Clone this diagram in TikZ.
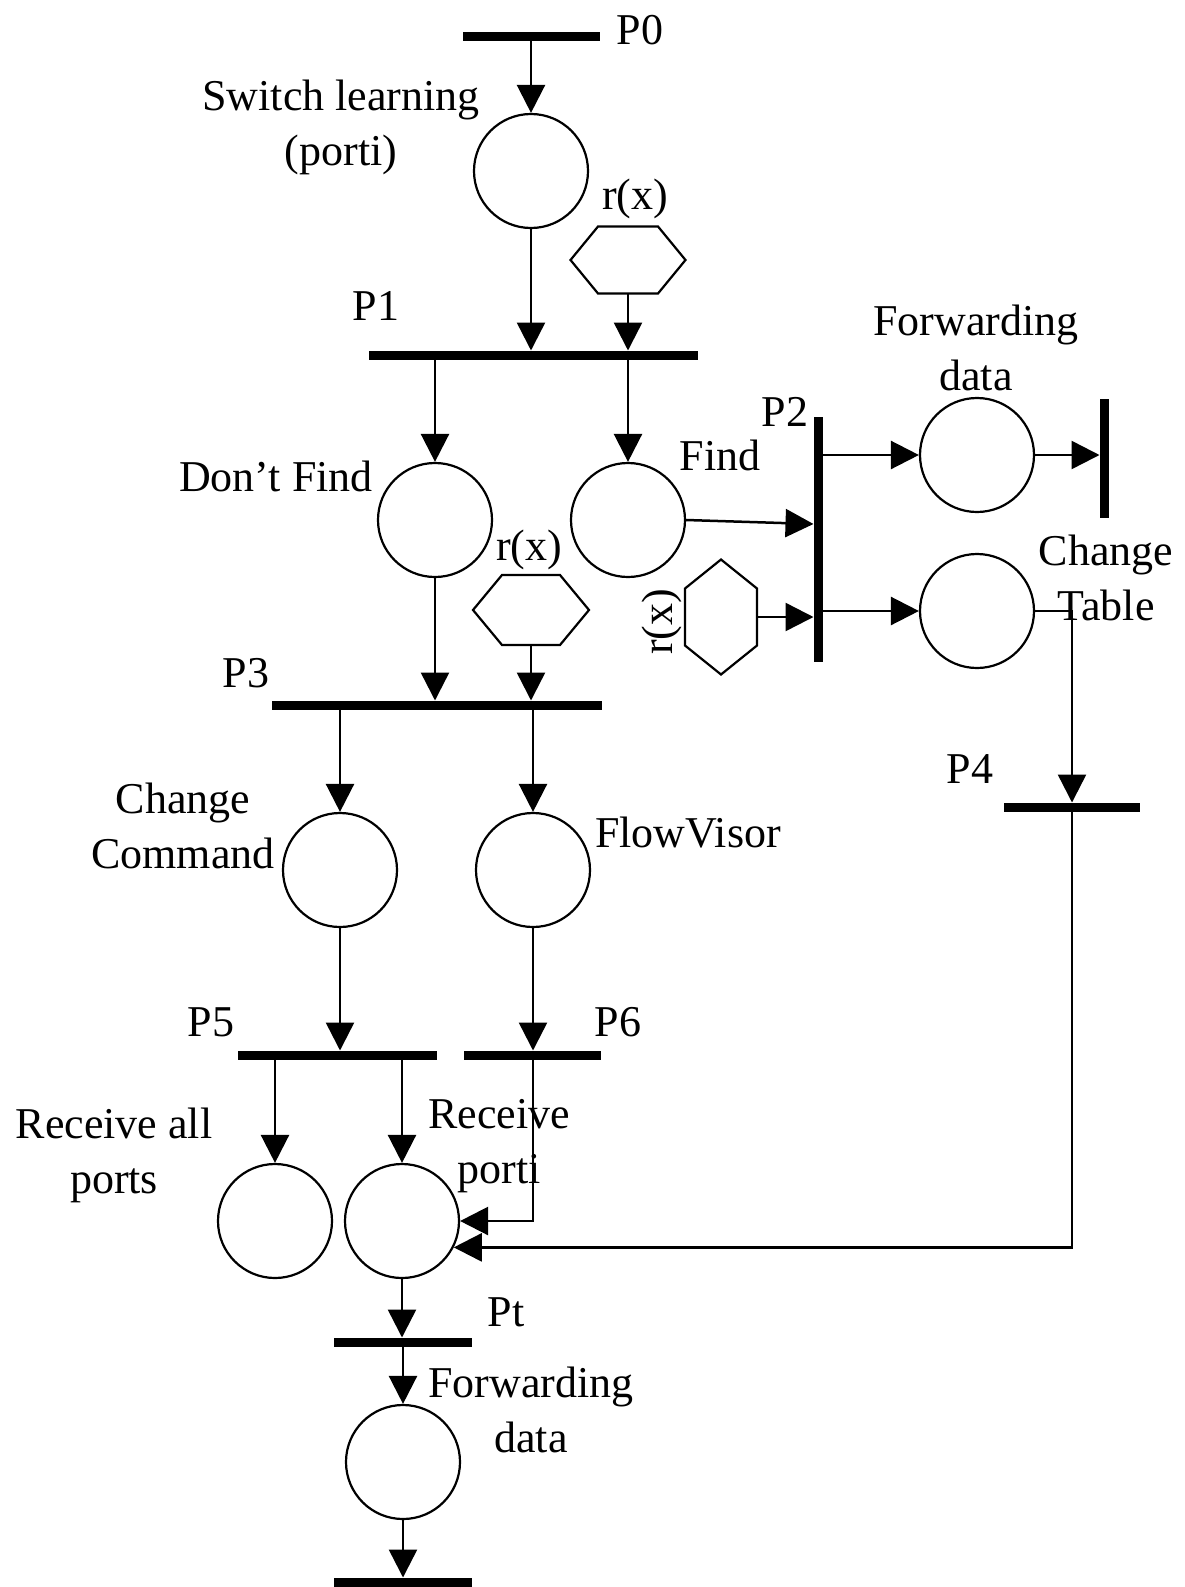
\documentclass[tikz,border=0pt]{standalone}
\usepackage{fontspec}
\setmainfont{Liberation Serif}
\usetikzlibrary{arrows.meta,calc}
\begin{document}
\begin{tikzpicture}[x=1pt,y=-1pt,
  place/.style={circle,draw,line width=2.2pt,minimum size=114pt,inner sep=0},
  hbar/.style={fill=black,inner sep=0,outer sep=0,minimum height=9pt},
  vbar/.style={fill=black,inner sep=0,outer sep=0,minimum width=9pt},
  hexbox/.style={inner sep=0,outer sep=0},
  hexline/.style={line width=2.2pt,line join=miter},
  flow/.style={line width=2.5pt,-{Triangle[length=28pt,width=28pt]}},
  lbl/.style={font=\fontsize{44}{55}\selectfont,align=center,inner sep=0}]
\useasboundingbox[fill=white] (0,0) rectangle (1185,1587);

% transitions (bars)
\node[hbar,minimum width=137pt] (P0) at (531.5,37) {};
\node[hbar,minimum width=329pt] (P1) at (533.5,355) {};
\node[vbar,minimum height=245pt] (P2) at (818,539.5) {};
\node[vbar,minimum height=119pt] (E1) at (1104,458.5) {};
\node[hbar,minimum width=330pt] (P3) at (437,705) {};
\node[hbar,minimum width=136pt] (P4) at (1072,807) {};
\node[hbar,minimum width=199pt] (P5) at (337.5,1055) {};
\node[hbar,minimum width=137pt] (P6) at (532.5,1055) {};
\node[hbar,minimum width=138pt] (Pt) at (403,1342) {};
\node[hbar,minimum width=138pt] (PE) at (403,1582) {};

% places
\node[place] (S0) at (531,171) {};
\node[place] (DF) at (435,520) {};
\node[place] (F) at (628,520) {};
\node[place] (FD) at (977,455) {};
\node[place] (CT) at (977,611) {};
\node[place] (CC) at (340,870) {};
\node[place] (FV) at (533,870) {};
\node[place] (RA) at (275,1221) {};
\node[place] (RP) at (402,1221) {};
\node[place] (FD2) at (403,1462) {};

% hexagons r(x)
\node[hexbox,minimum width=115pt,minimum height=67pt] (h1) at (628,260) {};
\draw[hexline] (h1.west) -- ([xshift=-30pt]h1.north) -- ([xshift=30pt]h1.north) -- (h1.east) -- ([xshift=30pt]h1.south) -- ([xshift=-30pt]h1.south) -- cycle;
\node[hexbox,minimum width=116pt,minimum height=70pt] (h3) at (531,610) {};
\draw[hexline] (h3.west) -- ([xshift=-29pt]h3.north) -- ([xshift=29pt]h3.north) -- (h3.east) -- ([xshift=29pt]h3.south) -- ([xshift=-29pt]h3.south) -- cycle;
\node[hexbox,minimum width=72pt,minimum height=115pt] (h2) at (721,617) {};
\draw[hexline] (h2.north) -- ([yshift=-29pt]h2.north east) -- ([yshift=29pt]h2.south east) -- (h2.south) -- ([yshift=29pt]h2.south west) -- ([yshift=-29pt]h2.north west) -- cycle;

% connectors
\draw[flow] (S0 |- P0.center) -- (S0.north);
\draw[flow] (S0.south) -- (S0 |- P1.north);
\draw[flow] (h1.south) -- (h1 |- P1.north);
\draw[flow] (DF |- P1.center) -- (DF.north);
\draw[flow] (F |- P1.center) -- (F.north);
\draw[flow] (F.east) -- ([yshift=-4pt]P2.west |- F.east);
\draw[flow] (h2.east) -- (P2.west |- h2.east);
\draw[flow] (P2.center |- FD.west) -- (FD.west);
\draw[flow] (P2.center |- CT.west) -- (CT.west);
\draw[flow] (FD.east) -- (E1.west |- FD.east);
\draw[flow] (CT.east) -| (P4.north);
\draw[flow] (DF.south) -- (DF |- P3.north);
\draw[flow] (h3.south) -- (h3 |- P3.north);
\draw[flow] (CC |- P3.center) -- (CC.north);
\draw[flow] (FV |- P3.center) -- (FV.north);
\draw[flow] (CC.south) -- (CC |- P5.north);
\draw[flow] (FV.south) -- (FV |- P6.north);
\draw[flow] (RA |- P5.center) -- (RA.north);
\draw[flow] (RP |- P5.center) -- (RP.north);
\draw[flow] (FV |- P6.center) |- (RP.east);
\draw[flow] (P4.center) |- (RP.-27);
\draw[flow] (RP.south) -- (RP |- Pt.north);
\draw[flow] (FD2 |- Pt.center) -- (FD2.north);
\draw[flow] (FD2.south) -- (FD2 |- PE.north);

% labels
\node[lbl] (lP0) at (640,30) {P0};
\node[lbl] (lS0) at (341,127) {Switch learning\\(porti)};
\node[lbl] (lr1) at (635,199) {r(x)};
\node[lbl] (lP1) at (376,306) {P1};
\node[lbl] (lDF) at (276,476) {Don't Find};
\node[lbl] (lF) at (720,455) {Find};
\node[lbl] (lP2) at (785,412) {P2};
\node[lbl] (lr3) at (529,550) {r(x)};
\node[lbl,rotate=90] (lr2) at (662,622) {r(x)};
\node[lbl] (lFD) at (976,348) {Forwarding\\data};
\node[lbl] (lCT) at (1106,578) {Change\\Table};
\node[lbl] (lP3) at (246,673) {P3};
\node[lbl] (lP4) at (970,769) {P4};
\node[lbl] (lCC) at (183,826) {Change\\Command};
\node[lbl] (lFV) at (688,833) {FlowVisor};
\node[lbl] (lP5) at (211,1022) {P5};
\node[lbl] (lP6) at (618,1022) {P6};
\node[lbl] (lRA) at (114,1155) {Receive all\\ports};
\node[lbl] (lRP) at (499,1146) {Receive\\porti};
\node[lbl] (lPt) at (506,1312) {Pt};
\node[lbl] (lFD2) at (531,1410) {Forwarding\\data};
\end{tikzpicture}
\end{document}
